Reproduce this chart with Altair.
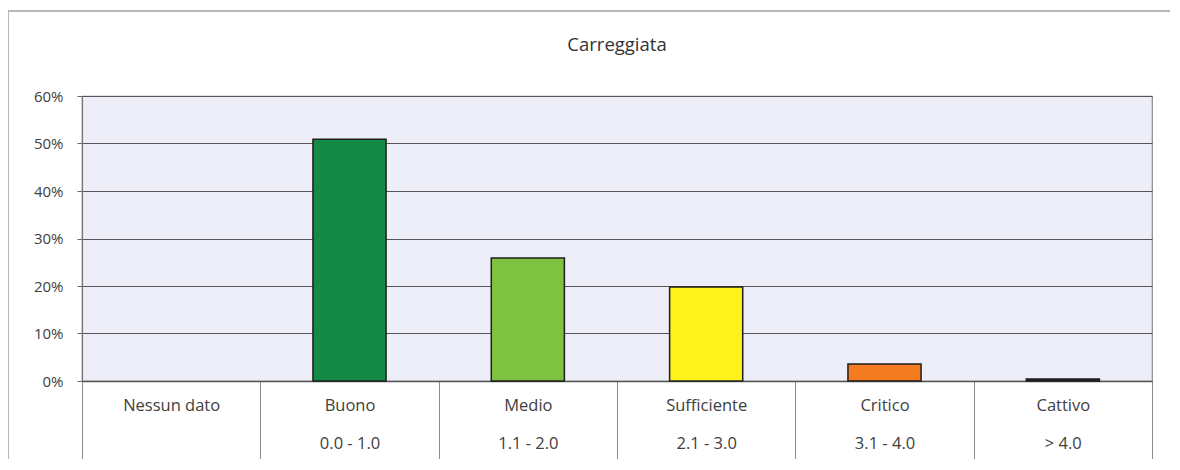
import altair as alt
import pandas as pd

categories = ["Nessun dato", "Buono", "Medio", "Sufficiente", "Critico", "Cattivo"]
ranges = ["", "0.0 - 1.0", "1.1 - 2.0", "2.1 - 3.0", "3.1 - 4.0", "> 4.0"]
shares = [0.0, 0.509, 0.259, 0.198, 0.036, 0.004]
colors = ["#cccccc", "#138a45", "#7fc241", "#fff21c", "#f47b20", "#2b2b2b"]
chart_title = "Carreggiata"

labels = [c + "|" + r for c, r in zip(categories, ranges)]
df = pd.DataFrame({"label": labels, "share": shares, "color": colors})

FONT = "Open Sans"
TXT = "#404040"

x_enc = alt.X(
    "label:N",
    sort=labels,
    scale=alt.Scale(paddingInner=0, paddingOuter=0),
    axis=alt.Axis(
        title=None,
        labelExpr="datum.value ? split(datum.value, '|') : ''",
        labelAngle=0,
        labelFont=FONT,
        labelFontSize=16.5,
        labelColor=TXT,
        labelLineHeight=38,
        labelBaseline="top",
        tickBand="extent",
        tickSize=78,
        tickColor="#8a8a8a",
        tickWidth=1,
        labelPadding=-62,
        domainColor="#555555",
        domainWidth=1.3,
        grid=False,
    ),
)

bars = alt.Chart(df).mark_bar(
    width=alt.RelativeBandSize(0.41),
    stroke="#1e1e1e",
    strokeWidth=1.5,
).encode(
    x=x_enc,
    y=alt.Y(
        "share:Q",
        scale=alt.Scale(domain=[0, 0.6], nice=False),
        axis=alt.Axis(
            title=None,
            format=".0%",
            values=[0, 0.1, 0.2, 0.3, 0.4, 0.5, 0.6],
            labelFont=FONT,
            labelFontSize=15,
            labelColor=TXT,
            tickSize=5,
            tickColor="#666666",
            labelPadding=14,
            domainColor="#777777",
            domainWidth=1.2,
            gridColor="#555555",
            gridWidth=1.1,
        ),
    ),
    color=alt.Color("color:N", scale=None, legend=None),
    strokeOpacity=alt.condition("datum.share > 0", alt.value(1), alt.value(0)),
)

one = pd.DataFrame({"k": [0]})
frame_top = alt.Chart(one).mark_rule(color="#a0a0a0", strokeWidth=1.5).encode(
    x=alt.value(-74), x2=alt.value(1090), y=alt.value(-85)
)
frame_left = alt.Chart(one).mark_rule(color="#a0a0a0", strokeWidth=1.5).encode(
    x=alt.value(-74), y=alt.value(-85), y2=alt.value(370)
)
title_mark = alt.Chart(one).mark_text(
    font=FONT, fontSize=18.5, color="#333333", baseline="middle", align="center"
).encode(x=alt.value(535), y=alt.value(-51), text=alt.value(chart_title))

chart = alt.layer(frame_top, frame_left, title_mark, bars).properties(
    width=1070,
    height=285,
    background="white",
    autosize=alt.AutoSizeParams(type="none"),
    padding={"left": 74, "top": 88, "right": 18, "bottom": 78},
).configure_view(
    fill="#eeeef9", stroke="#8a8a8a", strokeWidth=1.2
)

chart.save("out.html", embed_options={"renderer": "svg", "actions": False})
